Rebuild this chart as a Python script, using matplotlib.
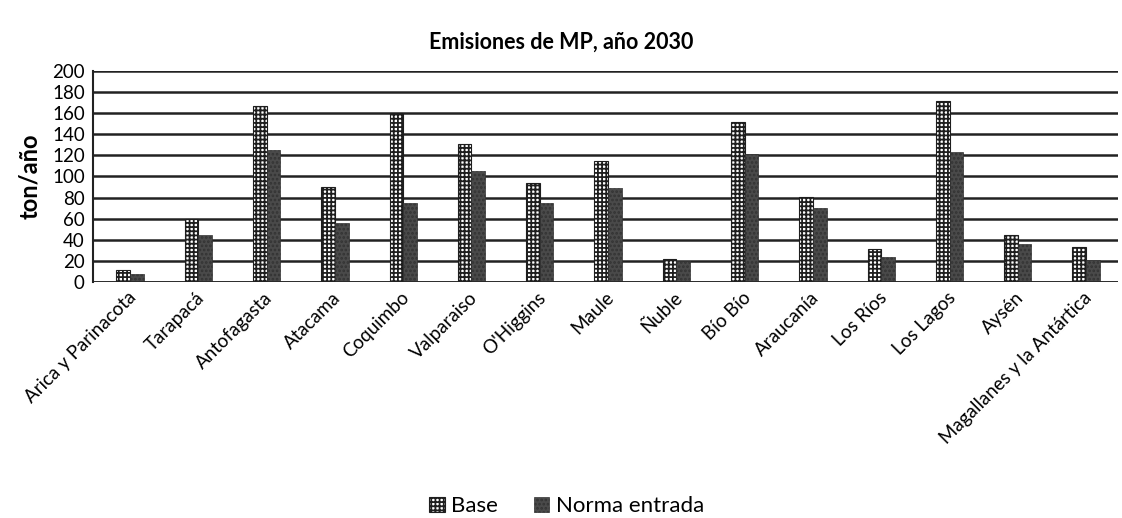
import numpy as np
import matplotlib.pyplot as plt

plt.rcParams['font.family'] = ['Lato', 'DejaVu Sans']
plt.rcParams['hatch.linewidth'] = 1.3

regiones = ['Arica y Parinacota', 'Tarapacá', 'Antofagasta', 'Atacama', 'Coquimbo',
            'Valparaiso', "O'Higgins", 'Maule', 'Ñuble', 'Bío Bío', 'Araucanía',
            'Los Ríos', 'Los Lagos', 'Aysén', 'Magallanes y la Antártica']
base = [11, 60, 167, 90, 160, 131, 94, 115, 22, 152, 81, 31, 172, 45, 33]
norma = [8, 45, 125, 56, 75, 105, 75, 89, 20, 121, 70, 24, 123, 36, 21]

fig = plt.figure(figsize=(11.22, 5.18), dpi=100)
ax = fig.add_axes([0.083, 0.4556, 0.913, 0.4074])

x = np.arange(len(regiones))
w = 0.2
ax.bar(x - w / 2 + 0.04, base, w, color='white', edgecolor='#1e1e1e', hatch='++++',
       linewidth=0.8, label='Base', zorder=3)
ax.bar(x + w / 2 + 0.04, norma, w, color='#4a4a4a', edgecolor='#333333', hatch='....',
       linewidth=0.5, label='Norma entrada', zorder=3)

ax.set_ylim(0, 200)
ax.set_yticks(range(0, 201, 20))
ax.set_xlim(-0.5, len(regiones) - 0.5)
ax.yaxis.grid(True, color='#222222', linewidth=1.8, zorder=0)
ax.set_axisbelow(True)
for s in ['top', 'right', 'bottom']:
    ax.spines[s].set_visible(False)
ax.spines['left'].set_color('#222222')
ax.spines['left'].set_linewidth(1.5)
ax.axhline(0, color='#222222', linewidth=1.8, zorder=4)

ax.set_xticks(x)
ax.set_xticklabels(regiones, rotation=45, ha='right', rotation_mode='anchor', fontsize=13.5)
ax.tick_params(axis='x', length=0, pad=5)
ax.tick_params(axis='y', length=0, labelsize=13.5, pad=6)

ax.set_ylabel('ton/año', fontsize=17, fontweight='bold', labelpad=8)
fig.text(0.5, 0.918, 'Emisiones de MP, año 2030', ha='center', va='center',
         fontsize=15.5, fontweight='bold')

fig.legend(loc='lower center', bbox_to_anchor=(0.505, -0.035), ncol=2, frameon=False,
           fontsize=16, handlelength=0.7, handleheight=0.7, columnspacing=1.6,
           handletextpad=0.3)

fig.savefig('out.png', dpi=100)
